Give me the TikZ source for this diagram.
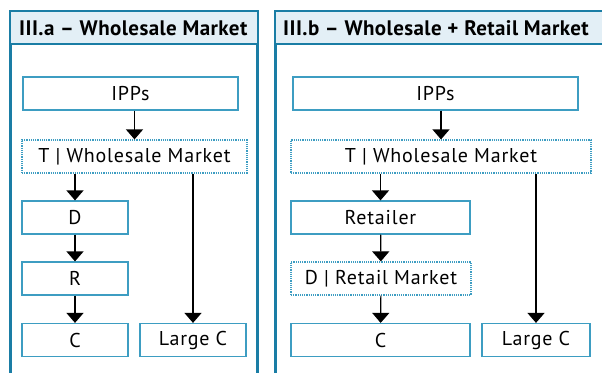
\documentclass[tikz,border=0pt]{standalone}
\usepackage{fontspec}
\setmainfont{PT Sans}[LetterSpace=4]
\newfontfamily\headfont{PT Sans}[LetterSpace=2]
\usetikzlibrary{arrows.meta}
\definecolor{panelblue}{HTML}{1A7DA5}
\definecolor{boxblue}{HTML}{3D9DC2}
\definecolor{titlefill}{HTML}{E3EFF6}
\begin{document}
\begin{tikzpicture}[x=1pt,y=-1pt,
  panel/.style={draw=panelblue,line width=3pt},
  band/.style={draw=panelblue,fill=titlefill,line width=1.5pt},
  title/.style={anchor=west,font=\fontsize{21}{21}\headfont\bfseries,inner sep=0pt},
  unit/.style={draw=boxblue,line width=1.2pt,minimum height=33pt,inner sep=0pt,
    font=\fontsize{20}{20}\selectfont},
  market/.style={unit,densely dotted},
  flow/.style={line width=1.2pt,-{Triangle[width=17pt,length=10pt]}}]
\clip (0,0) rectangle (602,372);
\fill[white] (0,0) rectangle (602,372);
%
% III.a
\draw[panel] (10.5,11) rectangle (257.5,400);
\draw[band] (10.5,11) rectangle (257.5,44);
\node[title] (ta) at (19,28) {III.a – Wholesale Market};
\node[unit,minimum width=215pt] (ippa) at (130.5,93.5) {IPPs};
\node[market,minimum width=225pt] (wma) at (134.5,156.5) {T | Wholesale Market};
\node[unit,minimum width=106pt] (da) at (75,217.5) {D};
\node[unit,minimum width=106pt] (ra) at (75,278.5) {R};
\node[unit,minimum width=106pt] (ca) at (75,340) {C};
\node[unit,minimum width=106pt] (lca) at (193,340) {Large C};
\draw[flow] (wma.north |- ippa.south) -- (wma.north);
\draw[flow] (da.north |- wma.south) -- (da.north);
\draw[flow] (da) -- (ra);
\draw[flow] (ra) -- (ca);
\draw[flow] (lca.north |- wma.south) -- (lca.north);
%
% III.b
\draw[panel] (275,11) rectangle (640,400);
\draw[band] (275,11) rectangle (640,44);
\node[title] (tb) at (283,28) {III.b – Wholesale + Retail Market};
\node[unit,minimum width=285pt] (ippb) at (435.5,93.5) {IPPs};
\node[market,minimum width=300pt] (wmb) at (441,156.5) {T | Wholesale Market};
\node[unit,minimum width=179pt] (rtb) at (380.5,217.5) {Retailer};
\node[market,minimum width=180pt] (rmb) at (381,278.5) {D | Retail Market};
\node[unit,minimum width=179pt] (cb) at (380.5,340) {C};
\node[unit,minimum width=108pt] (lcb) at (536,340) {Large C};
\draw[flow] (wmb.north |- ippb.south) -- (wmb.north);
\draw[flow] (rtb.north |- wmb.south) -- (rtb.north);
\draw[flow] (rtb) -- (rmb);
\draw[flow] (rmb) -- (cb);
\draw[flow] (lcb.north |- wmb.south) -- (lcb.north);
\end{tikzpicture}
\end{document}
